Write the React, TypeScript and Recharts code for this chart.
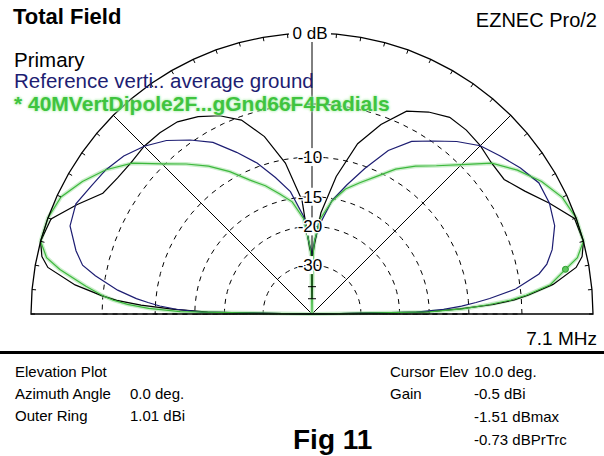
import React from 'react';
import { RadarChart, Radar, PolarGrid, PolarAngleAxis, PolarRadiusAxis } from 'recharts';

const FONT = '"Liberation Sans", Arial, sans-serif';
const OUTER_R = 281;

// elevation angle in degrees, 0 = right horizon, 180 = left horizon
const elevation = [0, 1, 2, 3, 4, 5, 7, 10, 12, 15, 20, 25, 30, 35, 40, 45, 50, 55, 60, 65, 70, 75, 80, 85, 88, 89, 90,
  91, 92, 95, 100, 105, 110, 115, 120, 125, 130, 135, 140, 145, 150, 155, 160, 165, 168, 170, 173, 175, 176, 177, 178, 179, 180];

// gain in dB relative to the outer ring (1.01 dBi)
const primaryDb = [-99, -16, -11, -7.5, -5.6, -4.4, -2.5, -0.8, -0.3, 0, -0.1, -1.2, -2.3, -3.1, -3.1, -2.85, -2.7, -2.7, -3.2, -3.9, -5.7, -8.0, -12.0, -17.5, -24, -26, -28,
  -26, -25, -15.5, -10.4, -7.3, -5.3, -4.3, -3.6, -3.1, -2.95, -2.9, -3.0, -2.9, -2.6, -1.4, -0.2, 0, -0.3, -0.8, -2.8, -4.9, -6.2, -8.5, -12, -17, -99];

const referenceDb = [-99, -17, -13, -10.8, -9.2, -7.8, -5.4, -3.4, -2.7, -2.1, -1.45, -1.2, -1.2, -1.7, -2.3, -2.85, -3.8, -4.9, -5.9, -7.6, -10.2, -12.8, -15.3, -19.5, -23, -25, -27,
  -25, -24, -18, -14.0, -11.8, -9.6, -7.8, -6.0, -4.8, -3.7, -2.9, -2.3, -1.9, -1.65, -1.3, -1.5, -2.4, -3.1, -4.2, -6.2, -8.0, -9.2, -10.5, -12.5, -16, -99];

const currentDb = [-99, -15, -10.5, -8.0, -5.9, -4.6, -2.7, -1.51, -0.6, 0, 0, -0.3, -1.0, -1.95, -3.1, -4.9, -6.4, -7.6, -8.9, -10.6, -12.0, -13.3, -15.4, -18.5, -23, -27, -99,
  -27, -24, -18.5, -15.5, -14.0, -12.4, -11.0, -9.2, -7.6, -6.2, -4.8, -3.1, -1.9, -1.0, -0.25, 0, 0, -0.6, -1.6, -3.6, -5.0, -5.9, -7.2, -9.3, -13, -99];

const cursorElev = 10;

// grid and axis ticks
const ringDb = [-5, -10, -15, -20, -30];
const angleTicks = [0, 5, 10, 15, 20, 25, 30, 35, 40, 45, 50, 55, 60, 65, 70, 75, 80, 85, 90,
  95, 100, 105, 110, 115, 120, 125, 130, 135, 140, 145, 150, 155, 160, 165, 170, 175, 180];
const spokeAngles = [45, 135];
const vertDb = [0, -5, -10, -15, -20, -30, -40, -50];
const vertLabels = ['0 dB', '', '-10', '-15', '-20', '-30', '', ''];

const arrl = (db: number) => Math.pow(0.89, -db / 2);

const vertTicks = vertDb.map(arrl);
const ringRadii = ringDb.map((db) => arrl(db) * OUTER_R);

const VertTick = (props: any) => {
  const { x, y, payload, index } = props;
  const v = payload?.value ?? 0;
  let k = vertTicks.findIndex((t) => Math.abs(t - v) < 1e-6);
  if (k < 0) k = index ?? 0;
  const label = vertLabels[k];
  if (!label) {
    return <line key={`v-${index}`} x1={x - 4} y1={y} x2={x + 4} y2={y} stroke="#000" />;
  }
  const top = k === 0;
  const w = top ? 42 : 6;
  return (
    <g key={`v-${index}`}>
      <rect x={x - 2 - w / 2} y={y - 9} width={w} height={18} fill="#fff" />
      <text x={x - 2} y={y + 6} textAnchor="middle" fontSize={17} fontFamily={FONT} fill="#000"
        stroke="#fff" strokeWidth={2.5} paintOrder="stroke" strokeLinejoin="round">{label}</text>
    </g>
  );
};

const CursorDot = (props: any) => {
  const { cx, cy, index } = props;
  if (elevation[index] !== cursorElev) return <g key={`d-${index}`} />;
  return <circle key={`d-${index}`} cx={cx} cy={cy} r={3} fill="#5cc85c" stroke="#2e9a2e" strokeWidth={1} />;
};

const T = ({ x, y, size, bold, color, right, children }: any) => (
  <div style={{
    position: 'absolute',
    top: y - size * 0.49,
    ...(right ? { right: 604 - x } : { left: x }),
    fontSize: size,
    lineHeight: 1,
    fontWeight: bold ? 700 : 400,
    color: color ?? '#000',
    whiteSpace: 'nowrap',
    fontFamily: FONT,
  }}>{children}</div>
);

export default function App() {
  const rows = elevation.map((angle, i) => ({
    angle,
    primary: arrl(primaryDb[i]),
    reference: arrl(referenceDb[i]),
    current: arrl(currentDb[i]),
  }));

  return (
    <div style={{ position: 'absolute', left: 0, top: 0, width: 604, height: 456, background: '#fff', overflow: 'hidden' }}>
      <RadarChart width={604} height={456} data={rows} cx={312} cy={314} outerRadius={OUTER_R}
        startAngle={0} endAngle={180} margin={{ top: 0, right: 0, bottom: 0, left: 0 }}>
        <PolarAngleAxis dataKey="angle" type="number" domain={[0, 180]} ticks={angleTicks} tickCount={37}
          tick={false} tickSize={4} orientation="inner" axisLineType="polygon"
          axisLine={{ stroke: '#000', strokeWidth: 1.3 }} tickLine={{ stroke: '#000' }} />
        <PolarGrid gridType="polygon" radialLines={false} polarRadius={ringRadii} stroke="#000" strokeDasharray="5 5" />
        <PolarGrid gridType="polygon" radialLines polarAngles={spokeAngles} polarRadius={[]} stroke="#000" />
        <PolarRadiusAxis angle={90} type="number" domain={[0, 1]} ticks={vertTicks}
          axisLine={{ stroke: '#000' }} tick={VertTick} />
        <Radar name="halo" dataKey="current" stroke="#a9e3a9" strokeWidth={4} strokeOpacity={0.6}
          fill="none" fillOpacity={0} dot={false} isAnimationActive={false} />
        <Radar name="Primary" dataKey="primary" stroke="#000" strokeWidth={1.2}
          fill="none" fillOpacity={0} dot={false} isAnimationActive={false} />
        <Radar name="Reference" dataKey="reference" stroke="#1d1d72" strokeWidth={1.2}
          fill="none" fillOpacity={0} dot={false} isAnimationActive={false} />
        <Radar name="Current" dataKey="current" stroke="#3db83d" strokeWidth={1.2}
          fill="none" fillOpacity={0} dot={CursorDot} isAnimationActive={false} />
      </RadarChart>

      <T x={13} y={17} size={22} bold>Total Field</T>
      <T x={597} y={20} size={20} right>EZNEC Pro/2</T>
      <T x={14} y={60} size={20.5}>Primary</T>
      <T x={14} y={81} size={20.5} color="#1d1d72">Reference verti.. average ground</T>
      <T x={14} y={103} size={21} bold color="#3fc43f">
        <span style={{ textShadow: '0 0 3px #b9f0b9, 0 0 3px #b9f0b9' }}>* 40MVertDipole2F...gGnd66F4Radials</span>
      </T>
      <T x={597} y={338} size={19} right>7.1 MHz</T>

      <div style={{ position: 'absolute', left: 0, top: 351, width: 604, height: 3, background: '#000' }} />

      <T x={15} y={371} size={15}>Elevation Plot</T>
      <T x={15} y={393} size={15}>Azimuth Angle</T>
      <T x={15} y={415} size={15}>Outer Ring</T>
      <T x={130} y={393} size={15}>0.0 deg.</T>
      <T x={130} y={415} size={15}>1.01 dBi</T>
      <T x={390} y={371} size={15}>Cursor Elev</T>
      <T x={390} y={393} size={15}>Gain</T>
      <T x={474} y={371} size={15}>10.0 deg.</T>
      <T x={474} y={393} size={15}>-0.5 dBi</T>
      <T x={474} y={416} size={15}>-1.51 dBmax</T>
      <T x={474} y={439} size={15}>-0.73 dBPrTrc</T>
      <T x={293} y={440} size={28} bold>Fig 11</T>
    </div>
  );
}
